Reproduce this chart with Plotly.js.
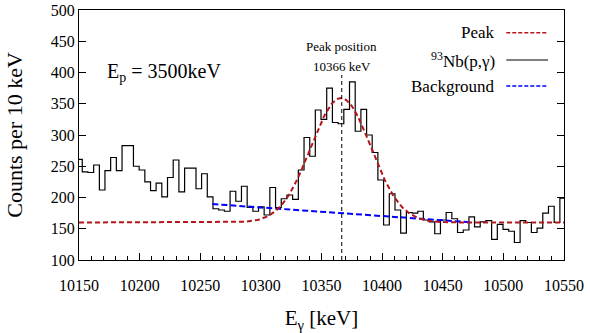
<!DOCTYPE html>
<html><head><meta charset="utf-8">
<script src="https://cdn.plot.ly/plotly-3.0.1.min.js"></script>
<style>html,body{margin:0;padding:0;background:#fff}</style>
</head><body><div id="chart" style="width:590px;height:333px"></div>
<script>
// Histogram bin left edges (keV) and counts
const binEdges = [10148.0,10152.7,10157.4,10162.1,10166.8,10171.4,10176.1,10180.8,10185.5,10190.2,
  10194.9,10199.6,10204.3,10209.0,10213.6,10218.3,10223.0,10227.7,10232.4,10237.1,
  10241.8,10246.5,10251.1,10255.8,10260.5,10265.2,10269.9,10274.6,10279.3,10284.0,
  10288.7,10293.4,10298.1,10302.7,10307.4,10312.1,10316.8,10321.5,10326.2,10330.9,
  10335.6,10340.3,10344.9,10349.6,10354.3,10359.0,10363.7,10368.4,10373.1,10377.8,
  10382.5,10387.2,10391.8,10396.5,10401.2,10405.9,10410.6,10415.3,10420.0,10424.7,
  10429.4,10434.0,10438.7,10443.4,10448.1,10452.8,10457.5,10462.2,10466.9,10471.6,
  10476.2,10480.9,10485.6,10490.3,10495.0,10499.7,10504.4,10509.1,10513.8,10518.4,
  10523.1,10527.8,10532.5,10537.2,10541.9,10546.6,10551.3];
const counts = [261,241,240,252,212,243,264,243,283,283,
  250,244,225,211,223,201,232,260,209,247,
  247,214,238,201,182,180,178,210,194,218,
  184,178,185,172,216,184,198,204,197,244,
  296,266,340,325,375,320,318,341,385,306,
  341,300,272,228,156,206,180,143,176,175,
  178,164,161,142,164,176,166,144,148,169,
  153,161,163,133,157,149,146,128,163,160,
  144,151,175,186,160,199];

// Fitted peak (Gaussian on constant level)
const peakCenter = 10366, peakSigma = 24.7, peakAmp = 199, peakBase = 160;
// Background line
const bgEnergy = [10260, 10472];
const bgCounts = [189.5, 160.5];
// Peak position marker
const peakLineE = 10366.7, peakLineTop = 396;
const xTickVals = [10150,10200,10250,10300,10350,10400,10450,10500,10550];
const yTickVals = [100,150,200,250,300,350,400,450,500];

const serif = "Liberation Serif, 'DejaVu Serif', serif";
const red = '#b5161b', blue = '#0000ff';

const histX = binEdges.slice();
const histY = counts.concat([counts[counts.length-1]]);

const gx = [], gy = [];
for (let e = 10150; e <= 10550; e += 1) {
  gx.push(e);
  gy.push(peakBase + peakAmp * Math.exp(-Math.pow(e - peakCenter, 2) / (2 * peakSigma * peakSigma)));
}

const traces = [
  {x: histX, y: histY, type: 'scatter', mode: 'lines', line: {shape: 'hv', color: '#000', width: 1.2}, name: '93Nb(p,γ)'},
  {x: bgEnergy, y: bgCounts, type: 'scatter', mode: 'lines', line: {color: blue, width: 2, dash: '6px,3px'}, name: 'Background'},
  {x: gx, y: gy, type: 'scatter', mode: 'lines', line: {color: red, width: 2, dash: '5px,3px'}, name: 'Peak'},
  {x: [peakLineE, peakLineE], y: [100, peakLineTop], type: 'scatter', mode: 'lines', line: {color: '#000', width: 1, dash: '4px,3px'}, name: 'pos'}
];

const legX1 = 0.862, legS0 = 0.881, legS1 = 0.967;
const legRows = [0.909, 0.8, 0.696];
const legTexts = ['Peak', '<sup>93</sup>Nb(p,γ)', 'Background'];
const legColors = [red, '#000', blue];
const legDash = ['dash', 'solid', 'dash'];

const annotations = [
  {xref: 'x', yref: 'paper', x: peakLineE, y: (260-46)/250, text: 'Peak position', showarrow: false, xanchor: 'center', yanchor: 'middle', font: {family: serif, size: 13, color: '#000'}},
  {xref: 'x', yref: 'paper', x: peakLineE, y: (260-66)/250, text: '10366 keV', showarrow: false, xanchor: 'center', yanchor: 'middle', font: {family: serif, size: 13, color: '#000'}},
  {xref: 'paper', yref: 'paper', x: 0.054, y: 0.752, text: 'E<sub>p</sub> = 3500keV', showarrow: false, xanchor: 'left', yanchor: 'middle', font: {family: serif, size: 20, color: '#000'}}
];
const shapes = [];
legTexts.forEach((t, i) => {
  annotations.push({xref: 'paper', yref: 'paper', x: legX1, y: legRows[i], text: t, showarrow: false, xanchor: 'right', yanchor: 'middle', font: {family: serif, size: 17, color: '#000'}});
  shapes.push({type: 'line', xref: 'paper', yref: 'paper', x0: legS0, x1: legS1, y0: legRows[i], y1: legRows[i],
    line: {color: legColors[i], width: legDash[i] === 'solid' ? 1.2 : 1.5, dash: legDash[i] === 'solid' ? 'solid' : '4px,2px'}});
});

const layout = {
  width: 590, height: 333,
  margin: {l: 79, r: 26, t: 10, b: 73},
  paper_bgcolor: '#fff', plot_bgcolor: '#fff',
  showlegend: false,
  font: {family: serif, color: '#000'},
  xaxis: {
    range: [10150, 10550], tickvals: xTickVals, ticktext: xTickVals.map(String),
    ticks: 'inside', ticklen: 7, tickcolor: '#000', tickwidth: 1,
    minor: {dtick: 10, ticks: 'inside', ticklen: 4, tickcolor: '#000'},
    showline: true, linecolor: '#000', linewidth: 1, mirror: true,
    showgrid: false, zeroline: false, ticklabelstandoff: 11,
    tickfont: {family: serif, size: 16, color: '#000'},
    title: {text: 'E<sub>γ</sub> [keV]', font: {family: serif, size: 21, color: '#000'}, standoff: 17}
  },
  yaxis: {
    range: [100, 500], tickvals: yTickVals, ticktext: yTickVals.map(String),
    ticks: 'inside', ticklen: 7, tickcolor: '#000', tickwidth: 1,
    showline: true, linecolor: '#000', linewidth: 1, mirror: 'ticks',
    showgrid: false, zeroline: false,
    tickfont: {family: serif, size: 16, color: '#000'},
    title: {text: 'Counts per 10 keV', font: {family: serif, size: 22, color: '#000'}, standoff: 22}
  },
  annotations: annotations,
  shapes: shapes
};

Plotly.newPlot('chart', traces, layout, {displayModeBar: false, staticPlot: true});
</script>
</body></html>
